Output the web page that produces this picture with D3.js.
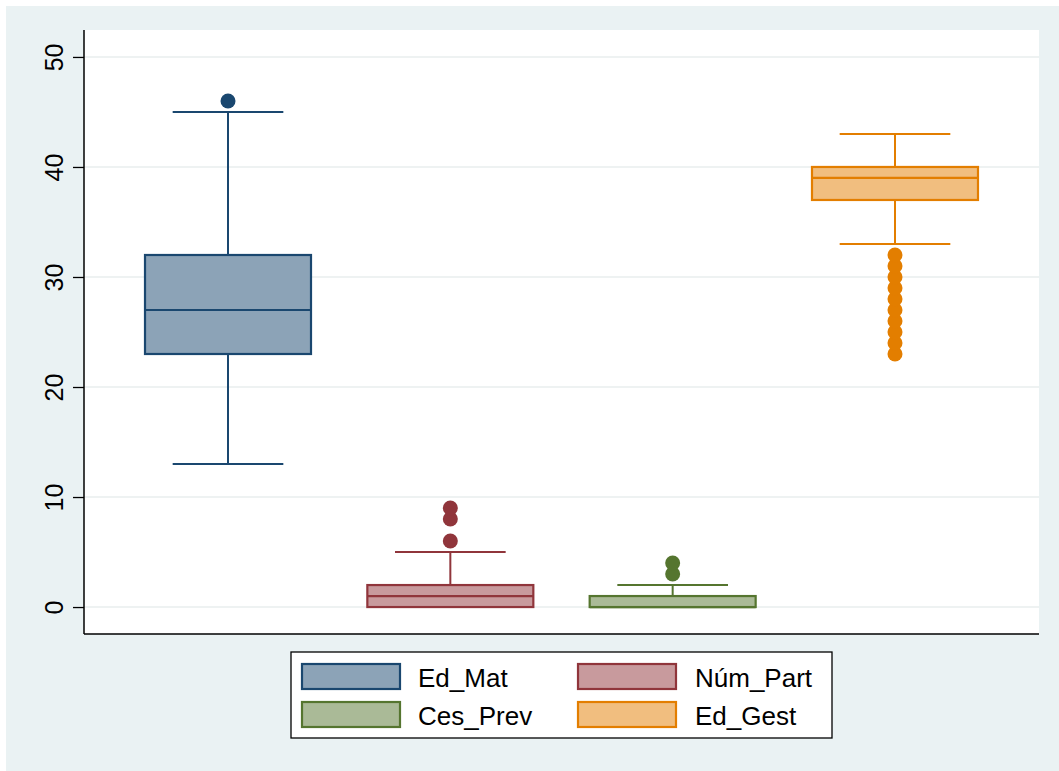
<!DOCTYPE html>
<html>
<head>
<meta charset="utf-8">
<script src="https://cdn.jsdelivr.net/npm/d3@7"></script>
<style>
  html, body { margin: 0; padding: 0; background: #ffffff; }
  svg { display: block; }
  text { font-family: "Liberation Sans", Arial, sans-serif; fill: #000; }
</style>
</head>
<body>
<svg id="chart" width="1059" height="771"></svg>
<script>
// Variables shown as box plots
const categories = ["Ed_Mat", "Núm_Part", "Ces_Prev", "Ed_Gest"];
// Five-number summaries: lower whisker, Q1, median, Q3, upper whisker
const lowerWhisker = [13, 0, 0, 33];
const q1 = [23, 0, 0, 37];
const median = [27, 1, 0, 39];
const q3 = [32, 2, 1, 40];
const upperWhisker = [45, 5, 2, 43];
// Values beyond the whiskers
const outliers = [
  [46],
  [6, 8, 9],
  [3, 4],
  [23, 24, 25, 26, 27, 28, 29, 30, 31, 32]
];
const yTicks = [0, 10, 20, 30, 40, 50];

// Line and fill colours for each variable
const strokeColors = ["#1a476f", "#90353b", "#55752f", "#e37e00"];
const fillColors = ["#8ca3b7", "#c89a9d", "#aaba97", "#f1be7f"];

const svg = d3.select("#chart");
const W = 1059, H = 771;
const plot = { left: 84, right: 1039, top: 30, bottom: 634 };

// Graph region background
svg.append("rect").attr("x", 0).attr("y", 0).attr("width", W).attr("height", H).attr("fill", "#ffffff");
svg.append("rect").attr("x", 6).attr("y", 6).attr("width", W - 6).attr("height", H - 6).attr("fill", "#eaf2f3");
// Plot region
svg.append("rect")
  .attr("x", plot.left).attr("y", plot.top)
  .attr("width", plot.right - plot.left).attr("height", plot.bottom - plot.top)
  .attr("fill", "#ffffff");

const y = d3.scaleLinear().domain([-2.45, 52.45]).range([plot.bottom, plot.top]);
const x = d3.scaleBand().domain(categories).range([plot.left, plot.right])
  .paddingInner(0.2534).paddingOuter(0.2744);

// Horizontal grid lines
svg.append("g").selectAll("line").data(yTicks).join("line")
  .attr("x1", plot.left).attr("x2", plot.right)
  .attr("y1", d => y(d)).attr("y2", d => y(d))
  .attr("stroke", "#e9eeee").attr("stroke-width", 1.6);

// Y axis
const yAxis = svg.append("g").attr("transform", `translate(${plot.left},0)`)
  .call(d3.axisLeft(y).tickValues(yTicks).tickSize(11).tickSizeOuter(0).tickPadding(0));
yAxis.select(".domain").remove();
yAxis.selectAll(".tick line").attr("stroke", "#000").attr("stroke-width", 1.3);
yAxis.selectAll(".tick text")
  .attr("x", 0).attr("y", 0).attr("dy", 0)
  .attr("transform", "translate(-21,0) rotate(-90)")
  .attr("text-anchor", "middle")
  .style("font-size", "25px");

// Axis lines
svg.append("line").attr("x1", plot.left).attr("x2", plot.left)
  .attr("y1", plot.top).attr("y2", plot.bottom)
  .attr("stroke", "#000").attr("stroke-width", 1.5);
svg.append("line").attr("x1", plot.left).attr("x2", plot.right)
  .attr("y1", plot.bottom).attr("y2", plot.bottom)
  .attr("stroke", "#000").attr("stroke-width", 1.5);

// Box plots
const data = categories.map((c, i) => ({
  name: c, lo: lowerWhisker[i], q1: q1[i], med: median[i], q3: q3[i], hi: upperWhisker[i],
  out: outliers[i], stroke: strokeColors[i], fill: fillColors[i]
}));

const bw = x.bandwidth();
const capW = bw * 2 / 3;
const groups = svg.append("g").selectAll("g").data(data).join("g")
  .attr("transform", d => `translate(${x(d.name) + bw / 2},0)`);

groups.each(function(d) {
  const g = d3.select(this);
  const sw = 2;
  // whiskers
  g.append("line").attr("x1", 0).attr("x2", 0).attr("y1", y(d.q3)).attr("y2", y(d.hi))
    .attr("stroke", d.stroke).attr("stroke-width", sw);
  g.append("line").attr("x1", 0).attr("x2", 0).attr("y1", y(d.q1)).attr("y2", y(d.lo))
    .attr("stroke", d.stroke).attr("stroke-width", sw);
  // caps
  [d.hi, d.lo].forEach(v => {
    g.append("line").attr("x1", -capW / 2).attr("x2", capW / 2).attr("y1", y(v)).attr("y2", y(v))
      .attr("stroke", d.stroke).attr("stroke-width", sw);
  });
  // box
  g.append("rect").attr("x", -bw / 2).attr("width", bw)
    .attr("y", y(d.q3)).attr("height", y(d.q1) - y(d.q3))
    .attr("fill", d.fill).attr("stroke", d.stroke).attr("stroke-width", 2.2);
  // median
  g.append("line").attr("x1", -bw / 2).attr("x2", bw / 2).attr("y1", y(d.med)).attr("y2", y(d.med))
    .attr("stroke", d.stroke).attr("stroke-width", 2.2);
  // outside values
  g.selectAll("circle").data(d.out).join("circle")
    .attr("cx", 0).attr("cy", v => y(v)).attr("r", 7.5)
    .attr("fill", d.stroke);
});

// Legend
const legend = svg.append("g");
legend.append("rect").attr("x", 291).attr("y", 652).attr("width", 541).attr("height", 86)
  .attr("fill", "#ffffff").attr("stroke", "#000").attr("stroke-width", 1.3);
const legendPos = [
  { kx: 302, ky: 664, tx: 418, ty: 687 },
  { kx: 578, ky: 664, tx: 695, ty: 687 },
  { kx: 302, ky: 702, tx: 418, ty: 725 },
  { kx: 578, ky: 702, tx: 695, ty: 725 }
];
data.forEach((d, i) => {
  const p = legendPos[i];
  legend.append("rect").attr("x", p.kx).attr("y", p.ky).attr("width", 98).attr("height", 25)
    .attr("fill", d.fill).attr("stroke", d.stroke).attr("stroke-width", 2.2);
  legend.append("text").attr("x", p.tx).attr("y", p.ty).text(d.name).style("font-size", "26px");
});
</script>
</body>
</html>
